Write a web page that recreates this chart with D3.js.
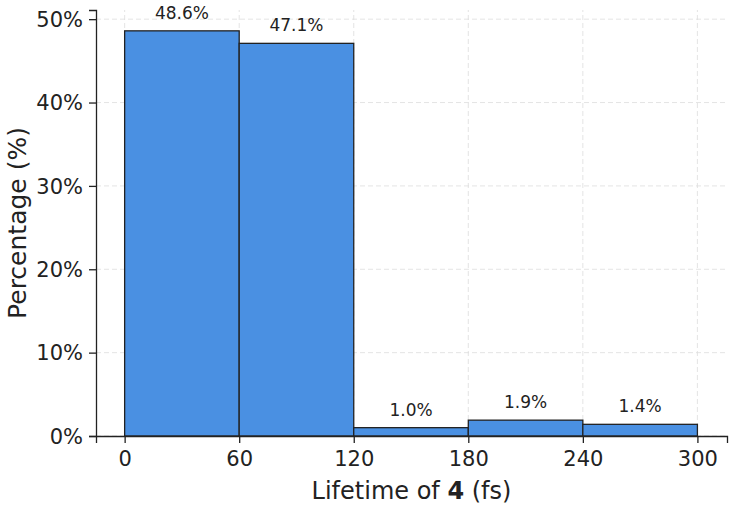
<!DOCTYPE html>
<html>
<head>
<meta charset="utf-8">
<script src="https://cdn.jsdelivr.net/npm/d3@7"></script>
<style>
body { margin: 0; background: #fff; }
text { font-family: "DejaVu Sans", sans-serif; fill: #222; }
</style>
</head>
<body>
<script>
// histogram bins (fs) and percentages
var binStarts = [0, 60, 120, 180, 240];
var binWidth = 60;
var percents = [48.6, 47.1, 1.0, 1.9, 1.4];
var xTicks = [0, 60, 120, 180, 240, 300];
var yTicks = [0, 10, 20, 30, 40, 50];

var w = 734, h = 507;
var margin = {top: 10, right: 7, bottom: 71, left: 96};

var svg = d3.select("body").append("svg")
	.attr("width", w)
	.attr("height", h);

var x = d3.scaleLinear()
	.domain([-15, 315.5])
	.range([margin.left, w - margin.right]);

var y = d3.scaleLinear()
	.domain([0, 51.1])
	.range([h - margin.bottom, margin.top]);

// grid
var grid = svg.append("g").attr("class", "grid");
grid.selectAll(".vgrid")
	.data(xTicks)
	.enter()
	.append("line")
	.attr("x1", function(d){ return x(d); })
	.attr("x2", function(d){ return x(d); })
	.attr("y1", y.range()[0])
	.attr("y2", y.range()[1])
	.style("stroke", "#ddd")
	.style("stroke-dasharray", "5,3")
	.style("stroke-width", 0.8);
grid.selectAll(".hgrid")
	.data(yTicks)
	.enter()
	.append("line")
	.attr("x1", x.range()[0])
	.attr("x2", x.range()[1])
	.attr("y1", function(d){ return y(d); })
	.attr("y2", function(d){ return y(d); })
	.style("stroke", "#ddd")
	.style("stroke-dasharray", "5,3")
	.style("stroke-width", 0.8);

// bars
svg.selectAll(".bar")
	.data(percents)
	.enter()
	.append("rect")
	.attr("class", "bar")
	.attr("x", function(d, i){ return x(binStarts[i]); })
	.attr("width", function(d, i){ return x(binStarts[i] + binWidth) - x(binStarts[i]); })
	.attr("y", function(d){ return y(d); })
	.attr("height", function(d){ return y(0) - y(d); })
	.style("fill", "#4a90e2")
	.style("stroke", "#222")
	.style("stroke-width", 1.3);

// bar labels
svg.selectAll(".blabel")
	.data(percents)
	.enter()
	.append("text")
	.attr("x", function(d, i){ return x(binStarts[i] + binWidth / 2); })
	.attr("y", function(d){ return y(d) - 12; })
	.attr("text-anchor", "middle")
	.style("font-size", "17px")
	.text(function(d){ return d.toFixed(1) + "%"; });

// axes
var xAxis = svg.append("g")
	.attr("transform", "translate(0," + y(0) + ")")
	.call(d3.axisBottom(x).tickValues(xTicks).tickSize(7).tickPadding(8));
var yAxis = svg.append("g")
	.attr("transform", "translate(" + margin.left + ",0)")
	.call(d3.axisLeft(y).tickValues(yTicks).tickSize(7).tickPadding(6)
		.tickFormat(function(d){ return d + "%"; }));

[xAxis, yAxis].forEach(function(a){
	a.select(".domain").style("stroke", "#222").style("stroke-width", 1.3);
	a.selectAll(".tick line").style("stroke", "#222").style("stroke-width", 1.3);
	a.selectAll(".tick text").style("font-size", "21px").style("font-family", "DejaVu Sans, sans-serif").style("fill", "#222");
});
yAxis.selectAll(".tick text").attr("dy", "0.35em");

// axis titles
var xl = svg.append("text")
	.attr("x", (x(-15) + x(315.5)) / 2)
	.attr("y", 499)
	.attr("text-anchor", "middle")
	.style("font-size", "24px");
xl.append("tspan").text("Lifetime of ");
xl.append("tspan").style("font-weight", "bold").text("4");
xl.append("tspan").text(" (fs)");

svg.append("text")
	.attr("transform", "translate(26," + (y(0) + y(51.1)) / 2 + ") rotate(-90)")
	.attr("text-anchor", "middle")
	.style("font-size", "25px")
	.text("Percentage (%)");
</script>
</body>
</html>
